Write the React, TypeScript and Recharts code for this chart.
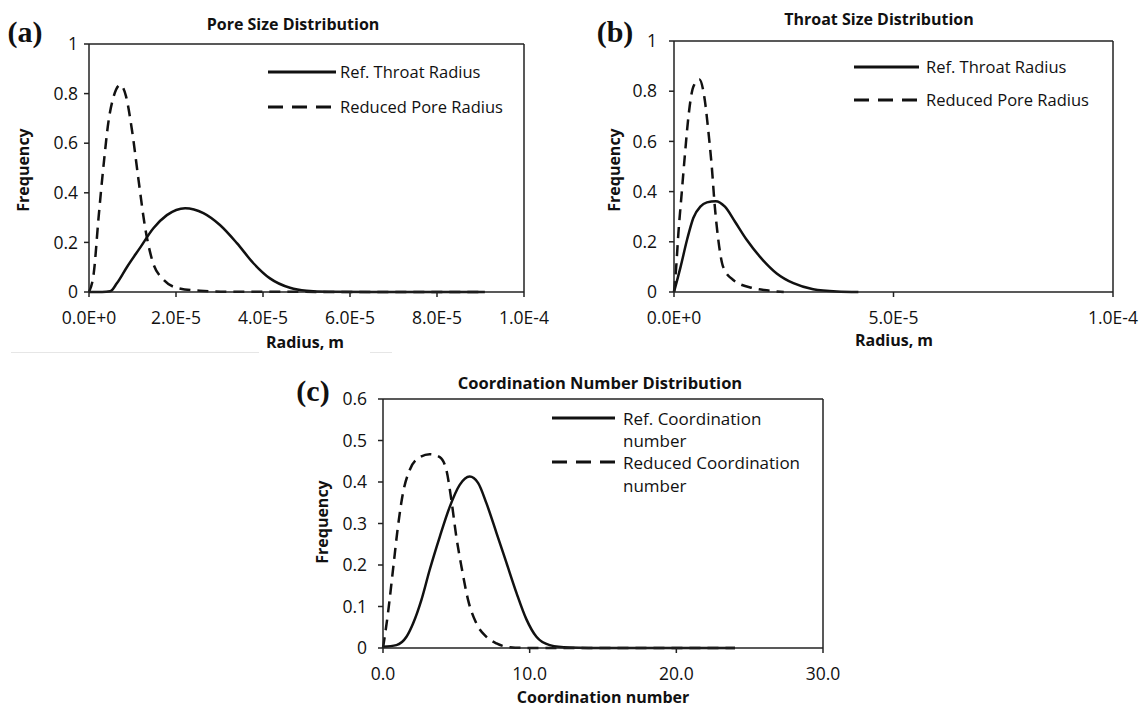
import { LineChart, Line, XAxis, YAxis, ReferenceLine } from "recharts"

type Pt = [number, number]

const FONT = '"Open Sans", sans-serif'

// (a) Pore size distribution, radius in m
const poreRefThroat: Pt[] = [
  [0, 0], [0.3e-5, 0], [0.49e-5, 0.003], [0.64e-5, 0.035], [0.87e-5, 0.1], [1.18e-5, 0.18],
  [1.48e-5, 0.257], [1.79e-5, 0.31], [2.21e-5, 0.338], [2.63e-5, 0.318], [3.01e-5, 0.27],
  [3.4e-5, 0.197], [3.78e-5, 0.116], [4.16e-5, 0.055], [4.62e-5, 0.017], [5.0e-5, 0.005],
  [5.5e-5, 0.001], [6.5e-5, 0], [9.1e-5, 0],
]
const poreReduced: Pt[] = [
  [0, 0], [0.11e-5, 0.077], [0.22e-5, 0.3], [0.34e-5, 0.52], [0.45e-5, 0.69], [0.57e-5, 0.79],
  [0.72e-5, 0.835], [0.85e-5, 0.79], [0.99e-5, 0.65], [1.14e-5, 0.45], [1.29e-5, 0.26],
  [1.45e-5, 0.13], [1.71e-5, 0.05], [2.06e-5, 0.015], [2.55e-5, 0.005], [3.2e-5, 0.001], [9.1e-5, 0],
]

// (b) Throat size distribution
const throatRef: Pt[] = [
  [0, 0], [0.15e-5, 0.1], [0.3e-5, 0.21], [0.44e-5, 0.295], [0.6e-5, 0.34], [0.75e-5, 0.357],
  [0.95e-5, 0.362], [1.16e-5, 0.34], [1.39e-5, 0.28], [1.66e-5, 0.207], [1.96e-5, 0.14],
  [2.34e-5, 0.074], [2.72e-5, 0.035], [3.17e-5, 0.011], [3.71e-5, 0.002], [4.2e-5, 0],
]
const throatReduced: Pt[] = [
  [0, 0], [0.05e-5, 0.1], [0.1e-5, 0.234], [0.175e-5, 0.393], [0.25e-5, 0.55], [0.33e-5, 0.7],
  [0.44e-5, 0.818], [0.58e-5, 0.847], [0.69e-5, 0.778], [0.78e-5, 0.645], [0.86e-5, 0.5],
  [0.93e-5, 0.34], [1.01e-5, 0.207], [1.12e-5, 0.1], [1.35e-5, 0.048], [1.81e-5, 0.015],
  [2.19e-5, 0.005], [2.5e-5, 0],
]

// (c) Coordination number distribution
const coordRef: Pt[] = [
  [0, 0.003], [0.91, 0.007], [1.6, 0.027], [2.05, 0.059], [2.62, 0.116], [3.18, 0.188],
  [3.87, 0.268], [4.55, 0.34], [5.23, 0.393], [5.91, 0.413], [6.48, 0.398], [7.05, 0.349],
  [7.74, 0.277], [8.42, 0.205], [9.1, 0.133], [9.78, 0.069], [10.46, 0.027], [11.37, 0.007],
  [12.7, 0.001], [14, 0], [24, 0],
]
const coordReduced: Pt[] = [
  [0, 0], [0.34, 0.084], [0.68, 0.188], [1.02, 0.293], [1.36, 0.373], [1.82, 0.429],
  [2.39, 0.457], [3.18, 0.467], [3.87, 0.46], [4.32, 0.429], [4.66, 0.357], [5.0, 0.268],
  [5.35, 0.196], [5.8, 0.116], [6.37, 0.059], [7.05, 0.027], [7.74, 0.011], [8.64, 0.002],
  [10, 0], [24, 0],
]

const radiusTicksA = [0, 2e-5, 4e-5, 6e-5, 8e-5, 1e-4]
const radiusTicksB = [0, 5e-5, 1e-4]
const freqTicks = [0, 0.2, 0.4, 0.6, 0.8, 1]
const coordTicks = [0, 10, 20, 30]
const coordFreqTicks = [0, 0.1, 0.2, 0.3, 0.4, 0.5, 0.6]

const toRows = (pts: Pt[]) => pts.map(([x, y]) => ({ x, y }))
const expFmt = (v: number) => v.toExponential(1).toUpperCase()
const fixedFmt = (v: number) => v.toFixed(1)

const axisStroke = { stroke: "#222", strokeWidth: 1.5 }
const tickStyle = { fill: "#111", fontSize: 17.5, fontFamily: FONT }

type PanelProps = {
  left: number
  top: number
  width: number
  height: number
  margin: { top: number; right: number; bottom: number; left: number }
  xMax: number
  xTicks: number[]
  xFmt: (v: number) => string
  yMax: number
  yTicks: number[]
  yGap: number
  solid: Pt[]
  dashed: Pt[]
}

const Panel = (p: PanelProps) => (
  <div style={{ position: "absolute", left: p.left, top: p.top }}>
    <LineChart width={p.width} height={p.height} margin={p.margin}>
      <XAxis
        dataKey="x"
        type="number"
        domain={[0, p.xMax]}
        ticks={p.xTicks}
        tickFormatter={p.xFmt}
        height={40}
        axisLine={axisStroke}
        tickLine={axisStroke}
        tickSize={5}
        tickMargin={15}
        tick={tickStyle}
        interval={0}
      />
      <YAxis
        type="number"
        domain={[0, p.yMax]}
        ticks={p.yTicks}
        width={60}
        axisLine={axisStroke}
        tickLine={axisStroke}
        tickSize={5}
        tickMargin={p.yGap}
        tick={tickStyle}
        interval={0}
      />
      <ReferenceLine y={p.yMax} stroke="#222" strokeWidth={1.5} />
      <ReferenceLine x={p.xMax} stroke="#222" strokeWidth={1.5} />
      <Line data={toRows(p.solid)} dataKey="y" type="monotone" stroke="#111" strokeWidth={2.5} dot={false} isAnimationActive={false} />
      <Line data={toRows(p.dashed)} dataKey="y" type="monotone" stroke="#111" strokeWidth={2.5} strokeDasharray="11 7" dot={false} isAnimationActive={false} />
    </LineChart>
  </div>
)

const Txt = ({ x, y, children, size = 16, bold = false, rotate = 0, family = FONT }: any) => (
  <div
    style={{
      position: "absolute",
      left: x,
      top: y,
      transform: `translate(-50%, -50%)${rotate ? ` rotate(${rotate}deg)` : ""}`,
      whiteSpace: "nowrap",
      fontSize: size,
      fontWeight: bold ? 700 : 400,
      fontFamily: family,
      color: "#111",
      lineHeight: 1,
    }}
  >
    {children}
  </div>
)

const LegendText = ({ x, y, children, size = 16.5 }: any) => (
  <div
    style={{
      position: "absolute",
      left: x,
      top: y,
      transform: "translateY(-50%)",
      whiteSpace: "nowrap",
      fontSize: size,
      fontFamily: FONT,
      color: "#111",
      lineHeight: 1,
    }}
  >
    {children}
  </div>
)

const Sample = ({ x1, x2, y, dashed }: { x1: number; x2: number; y: number; dashed?: boolean }) => (
  <svg style={{ position: "absolute", left: x1, top: y - 3 }} width={x2 - x1} height={6}>
    <line x1={0} x2={x2 - x1} y1={3} y2={3} stroke="#111" strokeWidth={3} strokeDasharray={dashed ? "15 9" : undefined} />
  </svg>
)

const Tag = ({ x, y, children }: any) => (
  <Txt x={x} y={y} size={30} bold family='"Liberation Serif", "Times New Roman", serif'>
    {children}
  </Txt>
)

export default function App() {
  return (
    <div style={{ position: "absolute", left: 0, top: 0, width: 1142, height: 708, background: "#fff", overflow: "hidden" }}>
      {/* (a) */}
      <Panel
        left={0} top={0} width={560} height={360}
        margin={{ top: 44, right: 36, bottom: 28, left: 29 }}
        xMax={1e-4} xTicks={radiusTicksA} xFmt={expFmt}
        yMax={1} yTicks={freqTicks} yGap={6}
        solid={poreRefThroat} dashed={poreReduced}
      />
      <Tag x={25} y={32}>(a)</Tag>
      <Txt x={293} y={24} bold>Pore Size Distribution</Txt>
      <Txt x={305} y={342} bold>Radius, m</Txt>
      <Txt x={23} y={170} bold rotate={-90}>Frequency</Txt>
      <Sample x1={268} x2={336} y={72} />
      <LegendText x={340} y={72}>Ref. Throat Radius</LegendText>
      <Sample x1={268} x2={336} y={107} dashed />
      <LegendText x={340} y={107}>Reduced Pore Radius</LegendText>
      <div style={{ position: "absolute", left: 11, top: 352, width: 248, borderTop: "1px solid #e6e6e6" }} />
      <div style={{ position: "absolute", left: 370, top: 352, width: 22, borderTop: "1px solid #e6e6e6" }} />

      {/* (b) */}
      <Panel
        left={580} top={0} width={562} height={360}
        margin={{ top: 41, right: 29, bottom: 28, left: 34 }}
        xMax={1e-4} xTicks={radiusTicksB} xFmt={expFmt}
        yMax={1} yTicks={freqTicks} yGap={12}
        solid={throatRef} dashed={throatReduced}
      />
      <Tag x={615} y={32}>(b)</Tag>
      <Txt x={879} y={19} bold>Throat Size Distribution</Txt>
      <Txt x={894} y={340} bold>Radius, m</Txt>
      <Txt x={614} y={170} bold rotate={-90}>Frequency</Txt>
      <Sample x1={854} x2={919} y={67} />
      <LegendText x={926} y={67}>Ref. Throat Radius</LegendText>
      <Sample x1={854} x2={919} y={100} dashed />
      <LegendText x={926} y={100}>Reduced Pore Radius</LegendText>

      {/* (c) */}
      <Panel
        left={270} top={360} width={600} height={348}
        margin={{ top: 39, right: 47, bottom: 20, left: 53 }}
        xMax={30} xTicks={coordTicks} xFmt={fixedFmt}
        yMax={0.6} yTicks={coordFreqTicks} yGap={11}
        solid={coordRef} dashed={coordReduced}
      />
      <Tag x={313} y={391}>(c)</Tag>
      <Txt x={600} y={383} bold size={16.5}>Coordination Number Distribution</Txt>
      <Txt x={603} y={697} bold size={16}>Coordination number</Txt>
      <Txt x={322} y={522} bold rotate={-90}>Frequency</Txt>
      <Sample x1={552} x2={615} y={418} />
      <LegendText x={623} y={418} size={17}>Ref. Coordination</LegendText>
      <LegendText x={623} y={440} size={17}>number</LegendText>
      <Sample x1={552} x2={615} y={462} dashed />
      <LegendText x={623} y={462} size={17}>Reduced Coordination</LegendText>
      <LegendText x={623} y={485} size={17}>number</LegendText>
    </div>
  )
}
